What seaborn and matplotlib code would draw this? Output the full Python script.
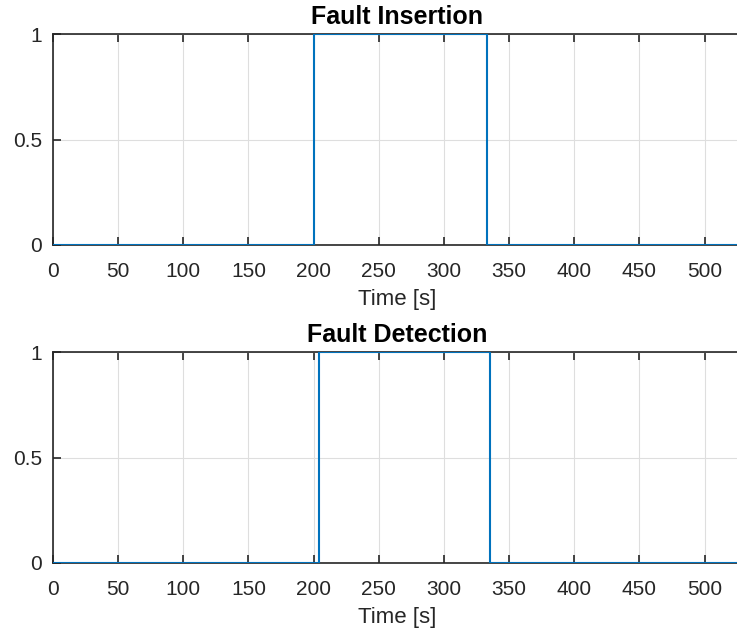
import matplotlib
matplotlib.use("Agg")
import matplotlib.pyplot as plt
import seaborn as sns
import pandas as pd

# Data (step signals)
insertion_time = [0, 200, 333, 528]
insertion_flag = [0, 1, 0, 0]
detection_time = [0, 204, 335, 528]
detection_flag = [0, 1, 0, 0]
x_ticks = [0, 50, 100, 150, 200, 250, 300, 350, 400, 450, 500]
y_ticks = [0, 0.5, 1]
y_tick_labels = ["0", "0.5", "1"]
titles = ["Fault Insertion", "Fault Detection"]

sns.set_theme(style="white")
plt.rcParams['font.family'] = ['Liberation Sans', 'DejaVu Sans']

fig = plt.figure(figsize=(7.37, 6.34), dpi=100)
W, H = 737, 634
ax1 = fig.add_axes([53 / W, 1 - 245 / H, (W - 53 + 4) / W, 211 / H])
ax2 = fig.add_axes([53 / W, 1 - 563 / H, (W - 53 + 4) / W, 211 / H])

series = [(insertion_time, insertion_flag), (detection_time, detection_flag)]
for ax, (t, v), title in zip([ax1, ax2], series, titles):
    df = pd.DataFrame({"t": t, "v": v})
    sns.lineplot(data=df, x="t", y="v", ax=ax, color="#0072BD", linewidth=1.5,
                 drawstyle="steps-post", sort=False, zorder=3)
    ax.set_xlim(0, 528)
    ax.set_ylim(0, 1)
    ax.set_xticks(x_ticks)
    ax.set_xticklabels([str(x) for x in x_ticks])
    ax.set_yticks(y_ticks)
    ax.set_yticklabels(y_tick_labels)
    ax.grid(True, color="#dedede", linewidth=0.8)
    ax.set_axisbelow(True)
    for s in ["left", "bottom", "top"]:
        ax.spines[s].set_visible(True)
        ax.spines[s].set_color("#262626")
        ax.spines[s].set_linewidth(1.2)
    ax.spines["right"].set_visible(False)
    ax.tick_params(axis="both", direction="in", length=6, width=1.2, color="#262626",
                   labelsize=15, labelcolor="#262626", top=True, bottom=True, left=True)
    ax.tick_params(axis="x", pad=12)
    ax.tick_params(axis="y", pad=8)
    ax.set_xlabel("Time [s]", fontsize=16, color="#262626", labelpad=6)
    ax.set_ylabel("")
    ax.set_title(title, fontsize=18, fontweight="bold", color="black", pad=7)

fig.savefig("out.png", dpi=100)
